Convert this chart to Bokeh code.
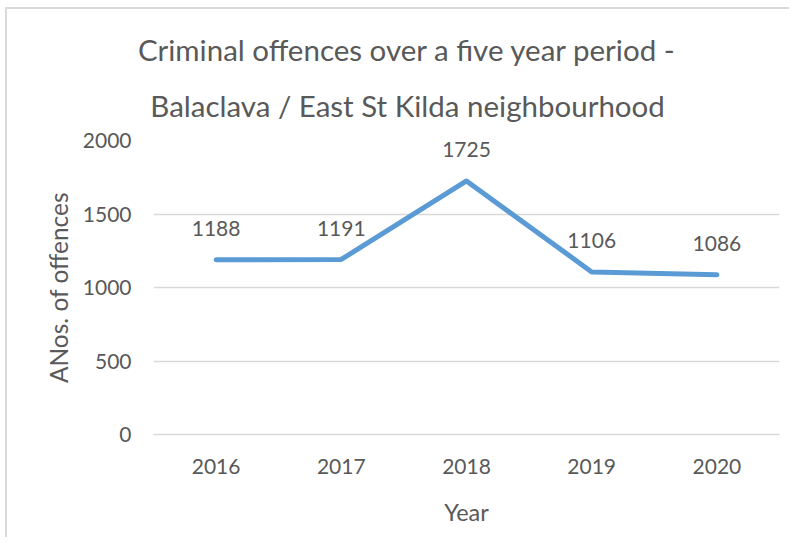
from bokeh.plotting import figure
from bokeh.models import FactorRange, FixedTicker, Title, LinearAxis
from bokeh.embed import file_html
from bokeh.resources import INLINE
from bokeh.core.properties import value

years = ["2016", "2017", "2018", "2019", "2020"]
offences = [1188, 1191, 1725, 1106, 1086]
y_ticks = [0, 500, 1000, 1500, 2000]
title_lines = ["Criminal offences over a five year period -",
               "Balaclava / East St Kilda neighbourhood"]
x_title = "Year"
y_title = "ANos. of offences"

FONT = "Lato"
GREY = "#595959"

p = figure(width=784, height=530, x_range=FactorRange(*years), y_range=(0, 2000),
           output_backend="svg", toolbar_location=None,
           min_border_left=146, min_border_right=12, min_border_top=131, min_border_bottom=105,
           styles={"border-left": "2px solid #d9d9d9", "border-top": "2px solid #d9d9d9",
                   "margin-left": "5px", "margin-top": "7px"})
p.outline_line_color = None
p.xgrid.grid_line_color = None
p.ygrid.grid_line_color = "#d9d9d9"
p.ygrid.grid_line_width = 1.3
p.yaxis.ticker = FixedTicker(ticks=y_ticks)

for ax in (p.xaxis[0], p.yaxis[0]):
    ax.major_tick_line_color = None
    ax.minor_tick_line_color = None
    ax.major_label_text_font = FONT
    ax.major_label_text_font_size = "21px"
    ax.major_label_text_color = GREY
    ax.axis_label_text_font = FONT
    ax.axis_label_text_font_style = "normal"
    ax.axis_label_text_color = GREY
p.yaxis.axis_label_text_font_size = "24.5px"
p.xaxis.axis_label_text_font_size = "23.5px"
p.xaxis.axis_line_color = "#d9d9d9"
p.xaxis.axis_line_width = 1.3
p.yaxis.axis_line_color = None
p.xaxis.major_label_standoff = 18
p.yaxis.major_label_standoff = 16
p.yaxis.axis_label = y_title
p.yaxis.axis_label_standoff = 7
p.xaxis.axis_label = x_title
p.xaxis.axis_label_standoff = 21

p.line(x=years, y=offences, line_color="#5b9bd5", line_width=5,
       line_cap="round", line_join="round")
p.text(x=years, y=offences, text=[str(v) for v in offences], y_offset=-31,
       text_align="center", text_baseline="middle", text_font=value(FONT),
       text_font_size="21px", text_color=GREY)

# invisible spacer (no ticks, no labels) between the plot area and the title
spacer = LinearAxis(ticker=FixedTicker(ticks=[]), axis_line_color=None,
                    major_tick_line_color="white", minor_tick_line_color=None,
                    major_tick_in=0, major_tick_out=37, minor_tick_out=0)
p.add_layout(spacer, "above")

p.title = None
p.add_layout(Title(text=title_lines[1], align="left", offset=-3.2, standoff=36,
                   text_font=FONT, text_font_size="29.5px", text_font_style="normal",
                   text_color=GREY), "above")
p.add_layout(Title(text=title_lines[0], align="left", offset=-15.6, standoff=2,
                   text_font=FONT, text_font_size="29.5px", text_font_style="normal",
                   text_color=GREY), "above")

open("out.html", "w").write(file_html(p, INLINE))
